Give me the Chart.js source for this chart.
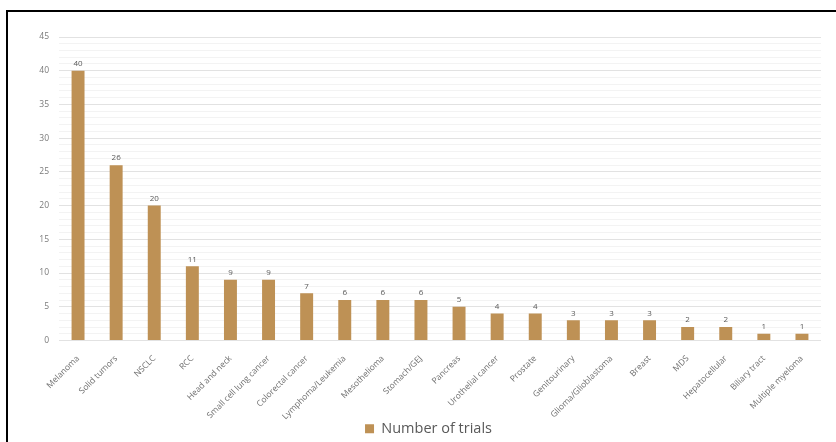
<!DOCTYPE html>
<html>
<head>
<meta charset="utf-8">
<script src="https://cdn.jsdelivr.net/npm/chart.js@4/dist/chart.umd.min.js"></script>
<style>
  html, body { margin: 0; padding: 0; background: #fff; }
  #wrap { position: relative; width: 836px; height: 442px; overflow: hidden; }
  #frame { position: absolute; left: 6px; top: 10px; width: 900px; height: 500px;
           border-top: 2px solid #000; border-left: 2px solid #000; pointer-events: none; }
  canvas { position: absolute; left: 0; top: 0; }
</style>
</head>
<body>
<div id="wrap">
  <canvas id="chart" width="836" height="442"></canvas>
  <div id="frame"></div>
</div>
<script>
const categories = [
  "Melanoma", "Solid tumors", "NSCLC", "RCC", "Head and neck",
  "Small cell lung cancer", "Colorectal cancer", "Lymphoma/Leukemia",
  "Mesothelioma", "Stomach/GEJ", "Pancreas", "Urothelial cancer",
  "Prostate", "Genitourinary", "Glioma/Glioblastoma", "Breast", "MDS",
  "Hepatocellular", "Biliary tract", "Multiple myeloma"
];
const trials = [40, 26, 20, 11, 9, 9, 7, 6, 6, 6, 5, 4, 4, 3, 3, 3, 2, 2, 1, 1];
const seriesName = "Number of trials";
const yMax = 45;
const yMajorStep = 5;

// small plugin: value labels above each bar
const valueLabels = {
  id: "valueLabels",
  afterDatasetsDraw(chart) {
    const ctx = chart.ctx;
    const meta = chart.getDatasetMeta(0);
    ctx.save();
    ctx.font = "8px 'Open Sans'";
    ctx.fillStyle = "#595959";
    ctx.textAlign = "center";
    ctx.textBaseline = "bottom";
    meta.data.forEach((bar, i) => {
      ctx.fillText(String(trials[i]), bar.x, bar.y - 3);
    });
    ctx.restore();
  }
};

new Chart(document.getElementById("chart").getContext("2d"), {
  type: "bar",
  data: {
    labels: categories,
    datasets: [{
      label: seriesName,
      data: trials,
      backgroundColor: "#BE9155",
      barPercentage: 0.34,
      categoryPercentage: 1
    }]
  },
  options: {
    responsive: false,
    animation: false,
    layout: { padding: { top: 37, left: 36, right: 15, bottom: -4 } },
    plugins: {
      tooltip: { enabled: false },
      legend: {
        position: "bottom",
        labels: {
          boxWidth: 9,
          boxHeight: 9,
          padding: 0,
          color: "#595959",
          font: { family: "'Open Sans'", size: 14.5 }
        }
      }
    },
    scales: {
      x: {
        grid: { display: false },
        border: { display: false },
        ticks: {
          color: "#6f6f6f",
          font: { family: "'Open Sans'", size: 8.5 },
          minRotation: 45,
          maxRotation: 45,
          autoSkip: false,
          padding: 5
        },
        afterFit(scale) { scale.height = 81; }
      },
      y: {
        min: 0,
        max: yMax,
        border: { display: false },
        grid: {
          color: (c) => (c.tick && c.tick.value % yMajorStep === 0) ? "#e2e2e2" : "#f3f3f3",
          drawTicks: false
        },
        ticks: {
          stepSize: 1,
          autoSkip: false,
          color: "#7a7a7a",
          padding: 10,
          font: { family: "'Open Sans'", size: 8.5 },
          callback: (v) => (v % yMajorStep === 0 ? v : "")
        },
        afterFit(scale) { scale.width = 23; }
      }
    }
  },
  plugins: [valueLabels]
});
</script>
</body>
</html>
